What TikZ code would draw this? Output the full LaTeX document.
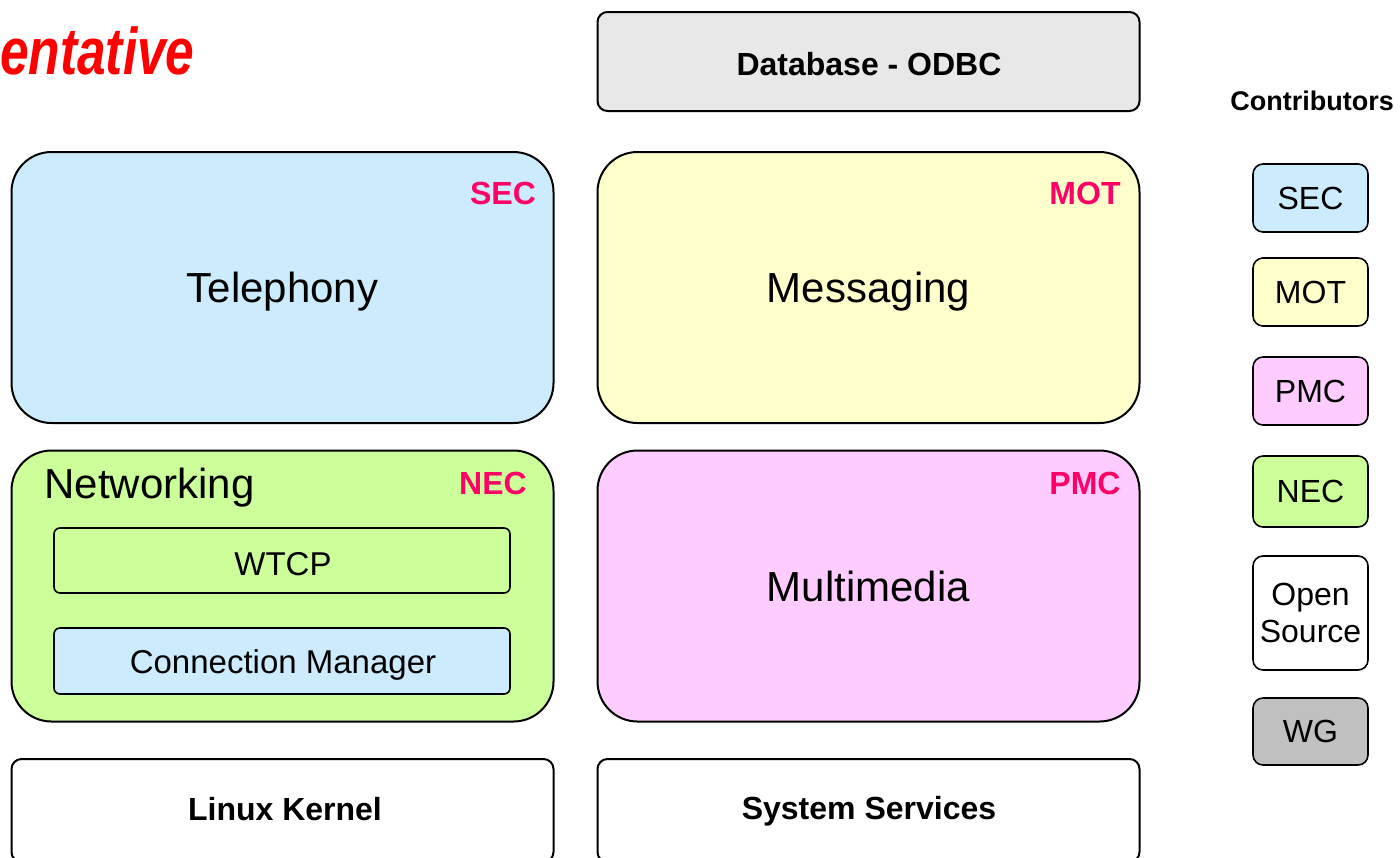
\documentclass[tikz,border=0pt]{standalone}
\usepackage{fontspec}
\setmainfont{Liberation Sans}
\newfontfamily\titlefont[FakeStretch=0.78]{Liberation Sans}
\usetikzlibrary{positioning}
\definecolor{secblue}{HTML}{CCEBFC}
\definecolor{motyellow}{HTML}{FFFFCC}
\definecolor{necgreen}{HTML}{CCFF99}
\definecolor{pmcpink}{HTML}{FFCCFF}
\definecolor{dbgray}{HTML}{E8E8E8}
\definecolor{wggray}{HTML}{C0C0C0}
\definecolor{ownerred}{HTML}{FF0066}
\tikzset{
	layer/.style={draw, line width=1pt, rounded corners=20pt, minimum width=271pt, minimum height=135.5pt, inner sep=0pt, text depth=0pt, font=\fontsize{21}{25}\selectfont},
	base/.style={draw, line width=1pt, rounded corners=5pt, minimum width=271pt, inner sep=0pt, font=\fontsize{16}{19}\selectfont\bfseries},
	owner/.style={text=ownerred, inner sep=0pt, font=\fontsize{16}{19}\selectfont\bfseries},
	sub/.style={draw, line width=0.8pt, rounded corners=3pt, minimum width=228pt, inner sep=0pt, font=\fontsize{16.5}{19}\selectfont},
	tag/.style={draw, line width=0.8pt, rounded corners=5pt, minimum width=57.5pt, inner sep=0pt, align=center, font=\fontsize{16}{18.5}\selectfont}
}
\begin{document}
\begin{tikzpicture}[x=0.5pt,y=-0.5pt,line join=round]
	\useasboundingbox (0,0) rectangle (1400,857);
	\clip (0,0) rectangle (1400,857);
	% heading
	\node[anchor=base east, inner sep=0pt, text=red, font=\titlefont\fontsize{33}{36}\selectfont\bfseries\itshape] (title) at (195,74) {entative};
	% left column
	\node[layer, fill=secblue] (tel) at (282.5,287.5) {Telephony};
	\node[layer, fill=necgreen] (net) at (282.5,586) {};
	\node[base, minimum height=51.5pt, fill=white] (kernel) at (282.5,810.5) {};
	\node[inner sep=0pt, font=\fontsize{16}{19}\selectfont\bfseries] (kerneltxt) at (285,809) {Linux Kernel};
	\node[anchor=west, inner sep=0pt, font=\fontsize{21}{25}\selectfont] (nettxt) at (44,488) {Networking};
	\node[sub, minimum height=32.5pt, fill=necgreen] (wtcp) at (282,560.5) {};
	\node[sub, minimum height=33pt, fill=secblue] (conn) at (282,661) {};
	\node[inner sep=0pt, font=\fontsize{16.5}{19}\selectfont] (wtcptxt) at (283,564) {WTCP};
	\node[inner sep=0pt, text depth=0pt, font=\fontsize{16.5}{19}\selectfont] (conntxt) at (283,662) {Connection Manager};
	\node[owner] (telown) at (503,193) {SEC};
	\node[owner] (netown) at (493,483) {NEC};
	% right column
	\node[base, minimum height=49.5pt, fill=dbgray] (odbc) at (868.5,61.5) {};
	\node[inner sep=0pt, font=\fontsize{16}{19}\selectfont\bfseries] (odbctxt) at (869,64) {Database - ODBC};
	\node[layer, fill=motyellow] (msg) at (868.5,287.5) {Messaging};
	\node[layer, fill=pmcpink] (mm) at (868.5,586) {Multimedia};
	\node[base, minimum height=51.5pt, fill=white] (sys) at (868.5,810.5) {};
	\node[inner sep=0pt, text depth=0pt, font=\fontsize{16}{19}\selectfont\bfseries] (systxt) at (869,808) {System Services};
	\node[owner] (msgown) at (1085,193) {MOT};
	\node[owner] (mmown) at (1085,483) {PMC};
	% contributors
	\node[inner sep=0pt, font=\fontsize{13.5}{16}\selectfont\bfseries] (contrib) at (1312,101) {Contributors};
	\node[tag, minimum height=34pt, fill=secblue] (tagsec) at (1310.5,198) {SEC};
	\node[tag, minimum height=34pt, fill=motyellow] (tagmot) at (1310.5,292) {MOT};
	\node[tag, minimum height=34pt, fill=pmcpink] (tagpmc) at (1310.5,391) {PMC};
	\node[tag, minimum height=35.5pt, fill=necgreen] (tagnec) at (1310.5,491.5) {NEC};
	\node[tag, minimum height=57pt, fill=white] (tagopen) at (1310.5,613) {Open\\Source};
	\node[tag, minimum height=33.5pt, fill=wggray] (tagwg) at (1310.5,731.5) {WG};
\end{tikzpicture}
\end{document}
